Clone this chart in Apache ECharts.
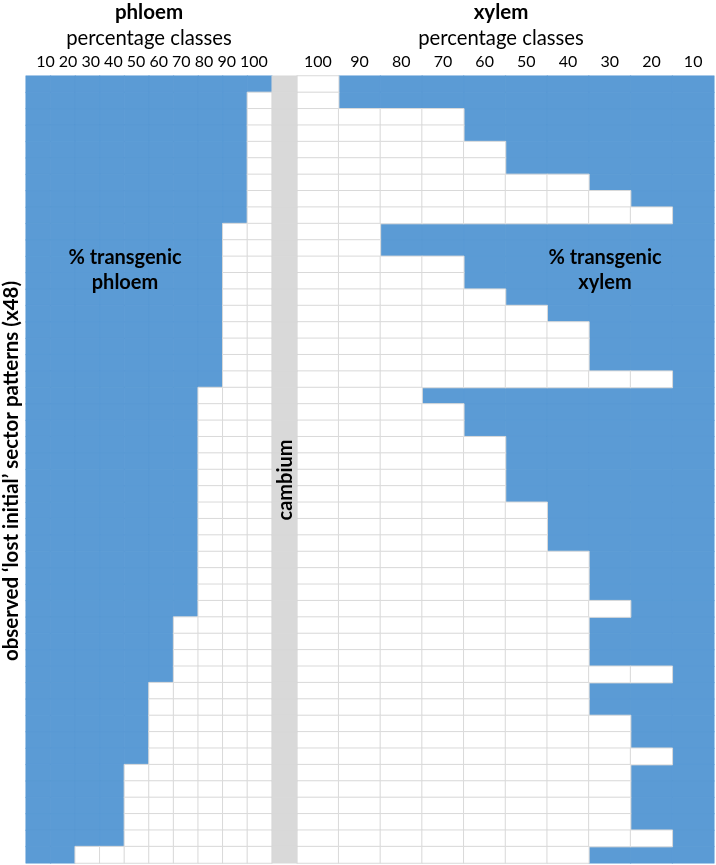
<!DOCTYPE html>
<html><head><meta charset="utf-8">
<script src="https://cdn.jsdelivr.net/npm/echarts@6/dist/echarts.min.js"></script>
<style>html,body{margin:0;padding:0;background:#fff}#c{width:716px;height:865px}</style>
</head><body><div id="c"></div>
<script>
// percentage classes (columns)
const phloemClasses = ['10','20','30','40','50','60','70','80','90','100'];
const xylemClasses = ['100','90','80','70','60','50','40','30','20','10'];
// 48 observed sector patterns (rows, top to bottom)
const patterns = Array.from({length:48}, (_, i) => String(i + 1));
// number of non-transgenic (white) classes next to the cambium, per pattern
const phloemWhite = [0, 1,1,1,1,1,1,1,1, 2,2,2,2,2,2,2,2,2,2,
  3,3,3,3,3,3,3,3,3,3,3,3,3,3, 4,4,4,4, 5,5,5,5,5, 6,6,6,6,6, 8];
const xylemWhite = [1,1,4,4,5,5,7,8,9, 2,2,4,4,5,6,7,7,7,9,
  3,4,4,5,5,5,5,6,6,6, 7,7,7,8,7,7,7,9,7,7, 8,8,9,8,8,8,8,9,7];

const BLUE = '#5b9bd5', GRID = '#d9d9d9', CAMB = '#d9d9d9';
const FONT = 'Lato, "Open Sans", sans-serif';

const phB = [], phW = [], xyB = [], xyW = [], camb = [];
patterns.forEach((p, r) => {
  phloemClasses.forEach((c, ci) => {
    (ci >= phloemClasses.length - phloemWhite[r] ? phW : phB).push([ci, r, 1]);
  });
  xylemClasses.forEach((c, ci) => {
    (ci < xylemWhite[r] ? xyW : xyB).push([ci, r, 1]);
  });
  camb.push([0, r, 1]);
});

const TOP = 76, H = 787;
function txt(text, x, y, size, bold, rot, lh) {
  return { type: 'text', x: x, y: y, z: 100, rotation: rot || 0, silent: true,
    style: { text: text, fill: '#000', fontSize: size, fontWeight: bold ? 'bold' : 'normal',
      fontFamily: FONT, align: 'center', verticalAlign: 'middle',
      textAlign: 'center', textVerticalAlign: 'middle', lineHeight: lh || Math.round(size * 1.3) } };
}

const chart = echarts.init(document.getElementById('c'), null, {renderer: 'canvas'});
const hm = (data, xi, color, border, bw) => ({
  type: 'heatmap', xAxisIndex: xi, yAxisIndex: xi, data: data, silent: true, z: 2,
  itemStyle: { color: color, borderColor: border, borderWidth: bw },
  emphasis: { disabled: true }
});
chart.setOption({
  animation: false,
  backgroundColor: '#fff',
  grid: [
    { left: 26, top: TOP, width: 246, height: H },
    { left: 297, top: TOP, width: 417, height: H },
    { left: 272, top: TOP, width: 25, height: H }
  ],
  xAxis: [
    { type: 'category', gridIndex: 0, data: phloemClasses, show: false },
    { type: 'category', gridIndex: 1, data: xylemClasses, position: 'top',
      axisLine: { show: false }, axisTick: { show: false }, splitLine: { show: false },
      axisLabel: { fontSize: 16, color: '#000', fontFamily: FONT, margin: 6 } },
    { type: 'category', gridIndex: 2, data: ['cambium'], show: false }
  ],
  yAxis: [0, 1, 2].map(i => ({ type: 'category', gridIndex: i, data: patterns, inverse: true, show: false })),
  series: [
    hm(phB, 0, BLUE, BLUE, 0.5),
    hm(phW, 0, '#fff', GRID, 1),
    hm(xyB, 1, BLUE, BLUE, 0.5),
    hm(xyW, 1, '#fff', GRID, 1),
    hm(camb, 2, CAMB, CAMB, 0.5)
  ],
  graphic: {
    z: 100,
    elements: [
      txt('phloem', 149, 12, 20.5, true),
      txt('percentage classes', 149, 38, 20.3, false),
      txt(phloemClasses.join(' '), 152, 62, 16, false),
      txt('xylem', 501, 12, 20.5, true),
      txt('percentage classes', 501, 38, 20.3, false),
      txt('% transgenic\nphloem', 125, 270.5, 20, true, 0, 25),
      txt('% transgenic\nxylem', 605, 270.5, 20, true, 0, 25),
      txt('observed \u2018lost initial\u2019 sector patterns (x48)', 11, 471, 20.5, true, Math.PI / 2),
      txt('cambium', 286, 480, 20, true, Math.PI / 2)
    ]
  }
});
</script></body></html>
